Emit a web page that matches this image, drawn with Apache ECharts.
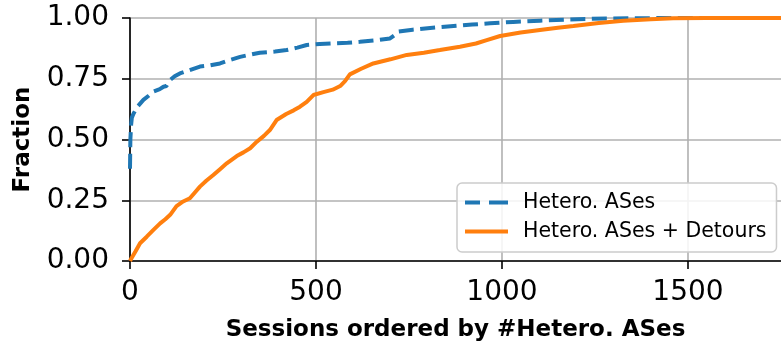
<!DOCTYPE html>
<html>
<head>
<meta charset="utf-8">
<script src="https://cdn.jsdelivr.net/npm/echarts@6/dist/echarts.min.js"></script>
<style>html,body{margin:0;padding:0;background:#fff;}#c{width:781px;height:347px;}</style>
</head>
<body>
<div id="c"></div>
<script>
// Hetero. ASes (blue dashed)
const heteroX = [0, 1, 3, 5, 9, 20, 36, 50, 63, 80, 90, 98, 108, 120, 134, 160, 188, 215, 242, 270, 296, 320, 349, 390, 421, 450, 475, 510, 547, 585, 618, 660, 699, 712, 721, 760, 800, 833, 880, 920, 968, 1030, 1102, 1180, 1281, 1370, 1460, 1750];
const heteroY = [0.38, 0.50, 0.56, 0.59, 0.605, 0.635, 0.663, 0.68, 0.697, 0.707, 0.717, 0.72, 0.745, 0.76, 0.772, 0.785, 0.80, 0.805, 0.813, 0.828, 0.84, 0.848, 0.857, 0.862, 0.868, 0.878, 0.889, 0.893, 0.896, 0.898, 0.902, 0.908, 0.916, 0.93, 0.944, 0.952, 0.958, 0.962, 0.968, 0.973, 0.978, 0.984, 0.989, 0.994, 0.998, 0.999, 1.0, 1.0];
// Hetero. ASes + Detours (orange solid)
const detourX = [0, 4, 15, 27, 45, 63, 81, 95, 108, 125, 143, 161, 175, 188, 205, 224, 242, 260, 287, 305, 323, 341, 360, 376, 394, 420, 440, 457, 475, 493, 520, 545, 565, 578, 591, 620, 654, 700, 744, 790, 833, 887, 930, 959, 995, 1050, 1102, 1150, 1192, 1260, 1326, 1400, 1460, 1550, 1750];
const detourY = [0.0, 0.011, 0.04, 0.073, 0.1, 0.128, 0.155, 0.172, 0.19, 0.226, 0.245, 0.258, 0.283, 0.306, 0.33, 0.354, 0.378, 0.402, 0.432, 0.447, 0.464, 0.491, 0.515, 0.539, 0.58, 0.605, 0.62, 0.635, 0.655, 0.683, 0.695, 0.705, 0.72, 0.74, 0.768, 0.79, 0.813, 0.83, 0.848, 0.857, 0.868, 0.882, 0.895, 0.909, 0.926, 0.94, 0.951, 0.96, 0.967, 0.979, 0.989, 0.995, 0.999, 1.0, 1.0];
const xTicks = [0, 500, 1000, 1500];
const yTicks = [0, 0.25, 0.5, 0.75, 1.0];

const toPairs = (xs, ys) => xs.map((x, i) => [x, ys[i]]);
const chart = echarts.init(document.getElementById('c'), null, {renderer: 'canvas'});
const FONT = 'DejaVu Sans';
chart.setOption({
  animation: false,
  backgroundColor: '#ffffff',
  grid: {left: 130, right: 0, top: 18, bottom: 86, containLabel: false},
  xAxis: {
    type: 'value', min: 0, max: 1750, interval: 500,
    name: 'Sessions ordered by #Hetero. ASes',
    nameLocation: 'middle', nameGap: 58,
    nameTextStyle: {fontFamily: FONT, fontSize: 23, fontWeight: 'bold', color: '#000'},
    axisLine: {show: true, onZero: false, lineStyle: {color: '#000', width: 1.6}},
    axisTick: {show: true, length: 8, customValues: xTicks, lineStyle: {color: '#000', width: 1.6}},
    axisLabel: {fontFamily: FONT, fontSize: 28, color: '#000', margin: 18, customValues: xTicks,
      formatter: v => String(v)},
    splitLine: {show: true, lineStyle: {color: '#b0b0b0', width: 1.6}}
  },
  yAxis: {
    type: 'value', min: 0, max: 1, interval: 0.25,
    name: 'Fraction', nameLocation: 'middle', nameGap: 95,
    nameTextStyle: {fontFamily: FONT, fontSize: 23, fontWeight: 'bold', color: '#000'},
    axisLine: {show: true, lineStyle: {color: '#000', width: 1.6}},
    axisTick: {show: true, length: 8, lineStyle: {color: '#000', width: 1.6}},
    axisLabel: {fontFamily: FONT, fontSize: 28, color: '#000', margin: 21,
      formatter: v => yTicks.some(t => Math.abs(t - v) < 1e-9) ? v.toFixed(2) : ''},
    splitLine: {show: true, lineStyle: {color: '#b0b0b0', width: 1.6}}
  },
  legend: {
    orient: 'vertical', left: 457, top: 183,
    padding: [9, 10, 10, 8], itemGap: 8, itemWidth: 43, itemHeight: 4,
    backgroundColor: 'rgba(255,255,255,0.85)', borderColor: '#cccccc', borderWidth: 1.5, borderRadius: 5,
    textStyle: {fontFamily: FONT, fontSize: 20.5, color: '#000', lineHeight: 20, padding: [0, 0, 0, 10]},
    data: [
      {name: 'Hetero. ASes', icon: 'path://M0,0 L15,0 L15,4 L0,4 Z M24,0 L43,0 L43,4 L24,4 Z', itemStyle: {color: '#1f77b4'}},
      {name: 'Hetero. ASes + Detours', icon: 'path://M0,0 L43,0 L43,4 L0,4 Z', itemStyle: {color: '#ff7f0e'}}
    ]
  },
  series: [
    {name: 'Hetero. ASes', type: 'line', data: toPairs(heteroX, heteroY), showSymbol: false, symbol: 'none',
      lineStyle: {color: '#1f77b4', width: 4, type: [15, 6.5]}, itemStyle: {color: '#1f77b4'}, z: 3},
    {name: 'Hetero. ASes + Detours', type: 'line', data: toPairs(detourX, detourY), showSymbol: false, symbol: 'none',
      lineStyle: {color: '#ff7f0e', width: 4}, itemStyle: {color: '#ff7f0e'}, z: 4}
  ]
});
</script>
</body>
</html>
